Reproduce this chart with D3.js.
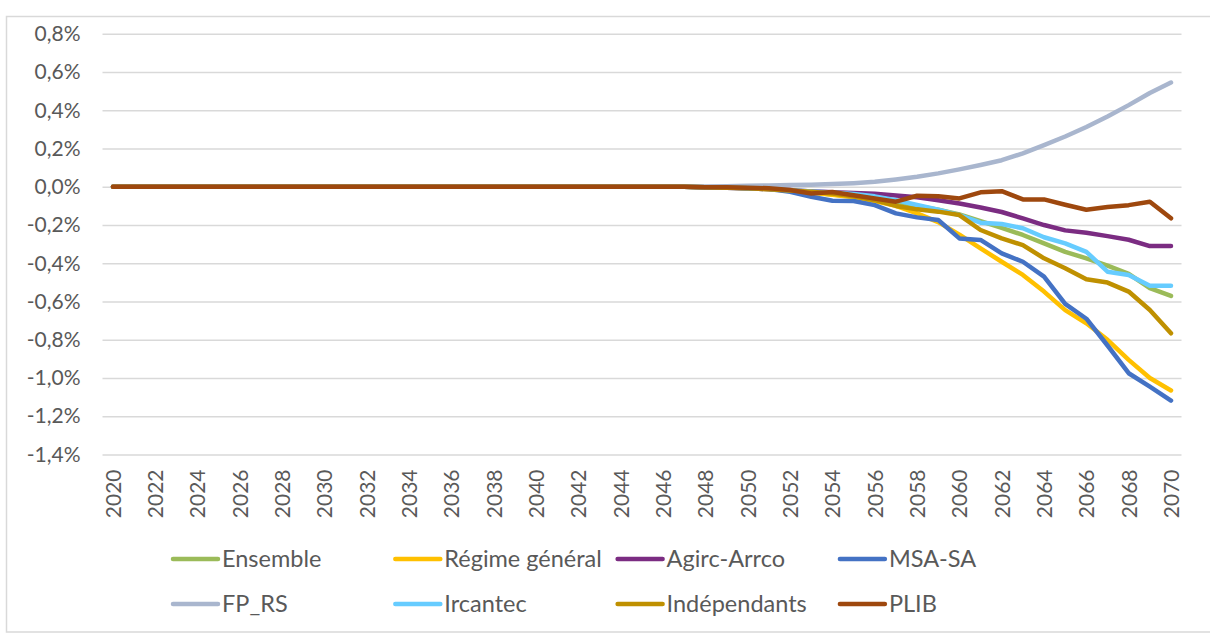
<!DOCTYPE html>
<html>
<head>
<meta charset="utf-8">
<script src="https://cdn.jsdelivr.net/npm/d3@7"></script>
<style>
body { margin:0; background:#fff; }
text { font-family: Lato, "Open Sans", sans-serif; fill:#595959; }
</style>
</head>
<body>
<div class="chart_div"></div>
<script>
var years = [2020,2021,2022,2023,2024,2025,2026,2027,2028,2029,2030,2031,2032,2033,2034,2035,2036,2037,2038,2039,2040,
	2041,2042,2043,2044,2045,2046,2047,2048,2049,2050,2051,2052,2053,2054,2055,2056,2057,2058,2059,2060,
	2061,2062,2063,2064,2065,2066,2067,2068,2069,2070];
var yTicks = [0.8,0.6,0.4,0.2,0,-0.2,-0.4,-0.6,-0.8,-1.0,-1.2,-1.4];
var names = ["Ensemble","Régime général","Agirc-Arrco","MSA-SA","FP_RS","Ircantec","Indépendants","PLIB"];
var colors = ["#9BBB59","#FFC000","#7B2C82","#4472C4","#A9B6CE","#66CCFF","#BF9000","#9E480E"];

// values in %, 2020 -> 2070
var ensemble = [0,0,0,0,0,0,0,0,0,0,0,0,0,0,0,0,0,0,0,0,0,0,0,0,0,0,0,
	0,-0.002,-0.004,-0.006,-0.01,-0.02,-0.03,-0.04,-0.05,-0.062,-0.08,-0.1,-0.12,-0.145,
	-0.18,-0.215,-0.252,-0.296,-0.34,-0.374,-0.412,-0.455,-0.53,-0.571];
var regime = [0,0,0,0,0,0,0,0,0,0,0,0,0,0,0,0,0,0,0,0,0,0,0,0,0,0,0,
	0,-0.002,-0.004,-0.008,-0.012,-0.02,-0.03,-0.042,-0.055,-0.075,-0.1,-0.139,-0.185,-0.25,
	-0.322,-0.392,-0.461,-0.548,-0.645,-0.714,-0.8,-0.905,-1.0,-1.065];
var agirc = [0,0,0,0,0,0,0,0,0,0,0,0,0,0,0,0,0,0,0,0,0,0,0,0,0,0,0,
	0,-0.002,-0.005,-0.008,-0.012,-0.017,-0.024,-0.028,-0.032,-0.037,-0.045,-0.055,-0.07,-0.087,
	-0.108,-0.132,-0.165,-0.2,-0.228,-0.24,-0.258,-0.277,-0.31,-0.31];
var msa = [0,0,0,0,0,0,0,0,0,0,0,0,0,0,0,0,0,0,0,0,0,0,0,0,0,0,0,
	0,-0.002,-0.005,-0.008,-0.012,-0.026,-0.052,-0.073,-0.074,-0.096,-0.139,-0.16,-0.174,-0.27,
	-0.278,-0.348,-0.392,-0.47,-0.612,-0.69,-0.83,-0.975,-1.045,-1.118];
var fprs = [0,0,0,0,0,0,0,0,0,0,0,0,0,0,0,0,0,0,0,0,0,0,0,0,0,0,0,
	0.001,0.002,0.003,0.005,0.007,0.009,0.011,0.014,0.019,0.026,0.038,0.052,0.07,0.091,
	0.114,0.139,0.175,0.218,0.263,0.313,0.368,0.427,0.49,0.545];
var ircantec = [0,0,0,0,0,0,0,0,0,0,0,0,0,0,0,0,0,0,0,0,0,0,0,0,0,0,0,
	0,-0.002,-0.004,-0.006,-0.01,-0.018,-0.025,-0.03,-0.038,-0.05,-0.07,-0.095,-0.12,-0.148,
	-0.188,-0.195,-0.217,-0.264,-0.296,-0.34,-0.444,-0.461,-0.518,-0.518];
var indep = [0,0,0,0,0,0,0,0,0,0,0,0,0,0,0,0,0,0,0,0,0,0,0,0,0,0,0,
	0,-0.002,-0.005,-0.008,-0.013,-0.02,-0.026,-0.035,-0.05,-0.07,-0.1,-0.118,-0.13,-0.148,
	-0.226,-0.27,-0.305,-0.374,-0.426,-0.484,-0.501,-0.548,-0.644,-0.766];
var plib = [0,0,0,0,0,0,0,0,0,0,0,0,0,0,0,0,0,0,0,0,0,0,0,0,0,0,0,
	0,-0.002,-0.003,-0.005,-0.008,-0.017,-0.035,-0.027,-0.044,-0.061,-0.078,-0.047,-0.049,-0.061,
	-0.029,-0.023,-0.066,-0.066,-0.094,-0.12,-0.106,-0.096,-0.078,-0.165];

var series = [ensemble,regime,agirc,msa,fprs,ircantec,indep,plib];

var svg = d3.select(".chart_div").append("svg")
			.attr("width",1210)
			.attr("height",633);

// chart frame
svg.append("rect")
	.attr("x",6.5)
	.attr("y",16.5)
	.attr("width",1300)
	.attr("height",615.5)
	.attr("fill","none")
	.attr("stroke","#D9D9D9")
	.attr("stroke-width",1.5);

var x = d3.scalePoint()
		.domain(years)
		.range([113,1171]);
var y = d3.scaleLinear()
		.domain([-1.4,0.8])
		.range([454.5,33.8]);

var fmt = function(d){
	return d3.format(".1f")(d).replace("−","-").replace(".",",") + "%";
};

// gridlines + y labels
var yAxis = d3.axisLeft(y)
		.tickValues(yTicks)
		.tickSize(-1079)
		.tickPadding(22)
		.tickFormat(fmt);

var gy = svg.append("g")
		.attr("transform","translate(102.5,0)")
		.call(yAxis);
gy.select(".domain").remove();
gy.selectAll(".tick line")
	.attr("stroke","#D9D9D9")
	.attr("stroke-width",1.5);
gy.selectAll(".tick text")
	.style("font-size","21px")
	.attr("fill","#595959");

// x labels, every 2 years
var xAxis = d3.axisBottom(x)
		.tickValues(years.filter(function(d,i){ return i%2==0; }))
		.tickSize(0)
		.tickFormat(d3.format("d"));

var gx = svg.append("g")
		.attr("transform","translate(0,454.5)")
		.call(xAxis);
gx.select(".domain").remove();
gx.selectAll(".tick text")
	.attr("transform","rotate(-90)")
	.attr("x",-15)
	.attr("y",0)
	.attr("dy","0.35em")
	.style("text-anchor","end")
	.style("font-size","21px")
	.attr("fill","#595959");

var line = d3.line()
		.x(function(d,i){ return x(years[i]); })
		.y(function(d){ return y(d); });

svg.selectAll(".serie")
	.data(series)
	.enter()
	.append("path")
	.attr("class","serie")
	.attr("d",line)
	.attr("fill","none")
	.attr("stroke",function(d,i){ return colors[i]; })
	.attr("stroke-width",4.5)
	.attr("stroke-linecap","round")
	.attr("stroke-linejoin","round");

// legend, 2 rows of 4
var legend = svg.selectAll(".leg")
		.data(names)
		.enter()
		.append("g")
		.attr("class","leg")
		.attr("transform",function(d,i){
			return "translate(" + (171 + (i%4)*222.3) + "," + (559 + Math.floor(i/4)*45) + ")";
		});

legend.append("line")
	.attr("x1",2)
	.attr("x2",47)
	.attr("stroke",function(d,i){ return colors[i]; })
	.attr("stroke-width",4.5)
	.attr("stroke-linecap","round");

legend.append("text")
	.attr("x",51)
	.attr("dy","0.35em")
	.style("font-size","23.5px")
	.text(function(d){ return d; });
</script>
</body>
</html>
